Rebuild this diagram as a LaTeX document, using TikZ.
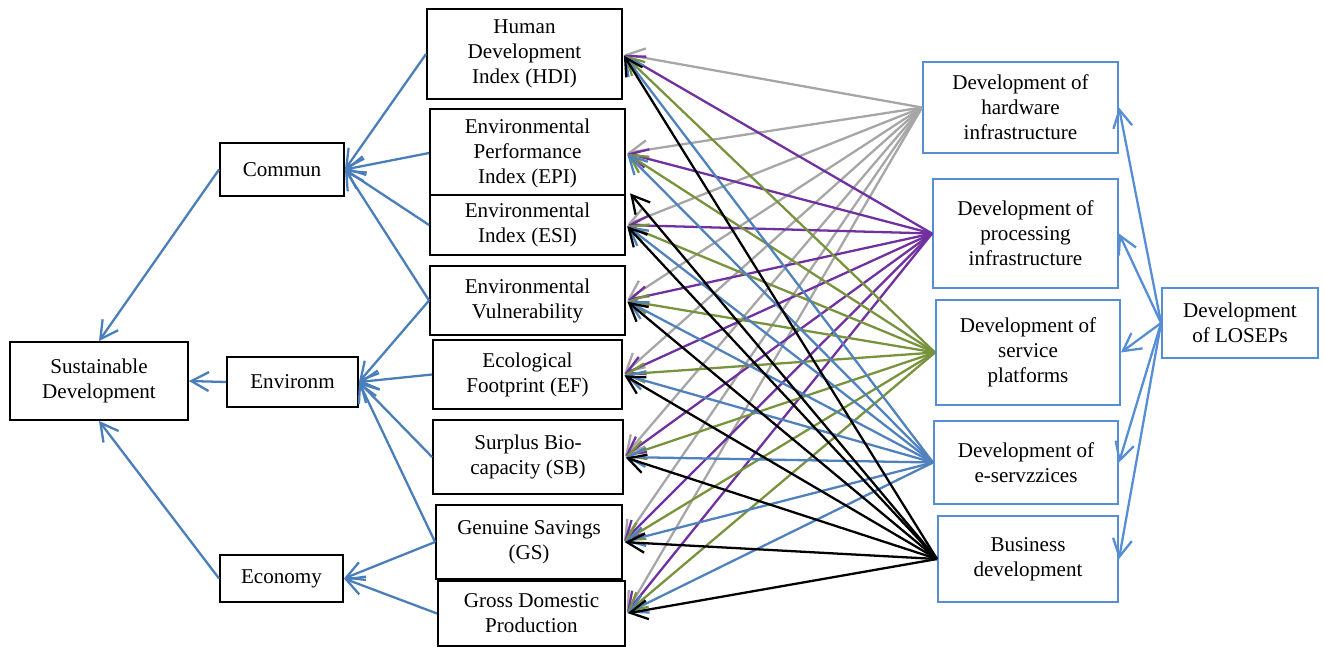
\documentclass[tikz,border=0pt]{standalone}
\usepackage{fontspec}
\setmainfont{Liberation Serif}
\usetikzlibrary{arrows.meta, calc}
\definecolor{linkblue}{RGB}{74,126,187}
\definecolor{frameblue}{RGB}{85,142,213}
\definecolor{fangray}{RGB}{166,166,166}
\definecolor{fanpurple}{RGB}{112,48,160}
\definecolor{fangreen}{RGB}{119,147,60}
\definecolor{fanblue}{RGB}{79,129,189}

\begin{document}
\begin{tikzpicture}[
    x=0.02cm, y=-0.02cm,
    >={Straight Barb[length=3.5mm, width=3.8mm]},
    box/.style={draw, fill=white, line width=1.1pt, align=center, inner sep=1pt, font=\fontsize{12}{14.2}\selectfont},
    devbox/.style={box, draw=frameblue},
    link/.style={->, draw=linkblue, line width=1.3pt},
    fan/.style={->, line width=1.3pt, shorten >=1pt},
]
    \useasboundingbox (0,0) rectangle (1324,646);

    % Goal and dimensions
    \node[box, minimum width=3.56cm, minimum height=1.56cm] (sus) at (99,381) {Sustainable\\Development};
    \node[box, minimum width=2.48cm, minimum height=1.06cm] (com) at (282,169.5) {Commun};
    \node[box, minimum width=2.62cm, minimum height=1.0cm] (env) at (292.5,382) {Environm};
    \node[box, minimum width=2.46cm, minimum height=0.94cm] (eco) at (281.5,578.5) {Economy};

    % Indicators
    \node[box, minimum width=3.9cm, minimum height=1.8cm] (hdi) at (524.5,54) {Human\\Development\\Index (HDI)};
    \node[box, minimum width=3.9cm, minimum height=1.76cm] (epi) at (527.5,153) {Environmental\\Performance\\Index (EPI)};
    \node[box, minimum width=3.9cm, minimum height=1.2cm] (esi) at (527.5,225) {Environmental\\Index (ESI)};
    \node[box, minimum width=3.9cm, minimum height=1.38cm] (evu) at (527.5,300.5) {Environmental\\Vulnerability};
    \node[box, minimum width=3.78cm, minimum height=1.38cm] (efp) at (527.5,374.5) {Ecological\\Footprint (EF)};
    \node[box, minimum width=3.8cm, minimum height=1.48cm] (sbc) at (528,457) {Surplus Bio-\\capacity (SB)};
    \node[box, minimum width=3.72cm, minimum height=1.48cm] (gsv) at (529,542) {Genuine Savings\\(GS)};
    \node[box, minimum width=3.74cm, minimum height=1.3cm] (gdp) at (531.5,613.5) {Gross Domestic\\Production};
    \coordinate (epib) at ($(epi.south east)+(3,-6)$);

    % Development areas
    \node[devbox, minimum width=3.9cm, minimum height=1.82cm] (hw) at (1020.5,107.5) {Development of\\hardware\\infrastructure};
    \node[devbox, minimum width=3.7cm, minimum height=2.18cm] (proc) at (1025.5,233.5) {Development of\\processing\\infrastructure};
    \node[devbox, minimum width=3.68cm, minimum height=2.1cm] (svc) at (1028,352.5) {Development of\\service\\platforms};
    \node[devbox, minimum width=3.68cm, minimum height=1.66cm] (esv) at (1026,462.5) {Development of\\e-servzzices};
    \node[devbox, minimum width=3.6cm, minimum height=1.72cm] (bus) at (1028,559) {Business\\development};
    \node[devbox, minimum width=3.12cm, minimum height=1.4cm] (los) at (1240,323) {Development\\of LOSEPs};

    % Indicators to dimensions
    \foreach \a in {hdi,epi,esi,evu}
        \draw[link] (\a.west) -- (com.east);
    \foreach \a in {evu,efp,sbc,gsv}
        \draw[link] (\a.west) -- (env.east);
    \foreach \a in {gsv,gdp}
        \draw[link] (\a.west) -- (eco.east);
    \draw[link] (com.west) -- (sus.north);
    \draw[link] (env.west) -- (sus.east);
    \draw[link] (eco.west) -- (sus.south);

    % LOSEPs to areas
    \foreach \a in {hw,proc,svc,esv,bus}
        \draw[link, draw=frameblue] (los.west) -- (\a.east);

    % Areas to indicators
    \foreach \s/\c in {hw/fangray, proc/fanpurple, svc/fangreen, esv/fanblue}
        \foreach \t in {hdi,epi,esi,evu,efp,sbc,gsv,gdp}
            \draw[fan, \c] (\s.west) -- (\t.east);
    \foreach \t in {hdi,esi,evu,efp,sbc,gsv,gdp}
        \draw[fan, black] (bus.west) -- (\t.east);
    \draw[fan, black] (bus.west) -- (epib);
\end{tikzpicture}
\end{document}
